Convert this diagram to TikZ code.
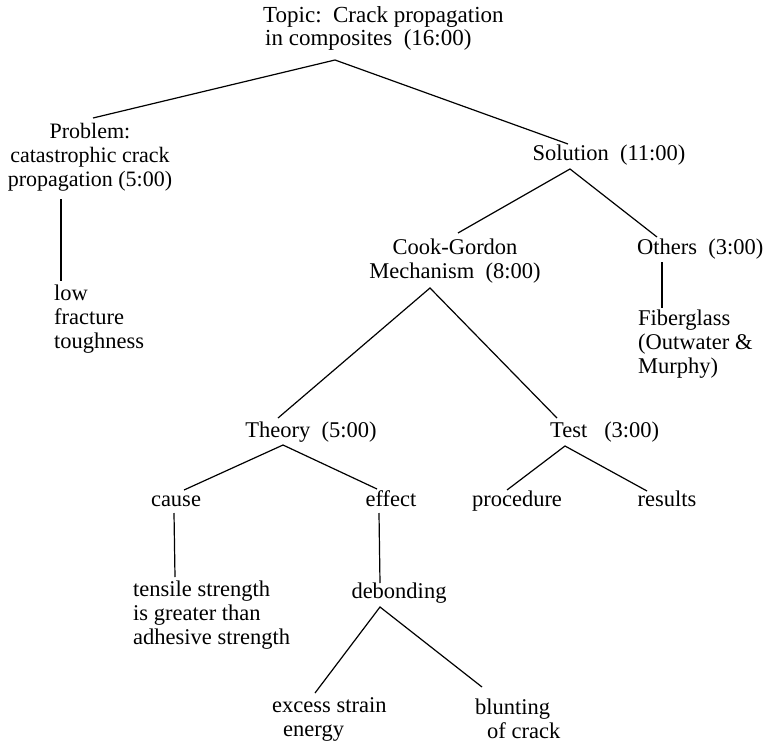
\documentclass[tikz,border=0pt]{standalone}
\usepackage{fontspec}
\setmainfont{Liberation Serif}
\begin{document}
\begin{tikzpicture}[x=1pt,y=-1pt,
  lbl/.style={inner sep=0pt, font=\fontsize{22.5}{24}\selectfont, align=center},
  lbll/.style={inner sep=0pt, font=\fontsize{22.5}{24}\selectfont, align=left, anchor=west},
  one/.style={text height=15.5pt, text depth=5pt},
  conn/.style={line width=1.2pt, black}]
\useasboundingbox (0,0) rectangle (769,744);
% nodes
\node[lbll, font=\fontsize{23}{23}\selectfont] (topic) at (263,28) {Topic:\ \ Crack propagation\\\hspace*{2pt}in composites\ \ (16:00)};
\node[lbl, font=\fontsize{22}{24}\selectfont] (problem) at (90,157) {Problem:\\catastrophic crack\\propagation (5:00)};
\node[lbll] (low) at (54,319) {low\\fracture\\toughness};
\node[lbl, one] (solution) at (609,155) {Solution\ \ (11:00)};
\node[lbl] (cook) at (455,261) {Cook-Gordon\\Mechanism\ \ (8:00)};
\node[lbll, one] (others) at (637,249) {Others\ \ (3:00)};
\node[lbll] (fiber) at (638,344) {Fiberglass\\(Outwater \&\\Murphy)};
\node[lbl, one] (theory) at (311,432) {Theory\ \ (5:00)};
\node[lbll, one] (test) at (550,432) {Test\ \ \ (3:00)};
\node[lbl, one] (cause) at (176,501) {cause};
\node[lbl, one] (effect) at (391,501) {effect};
\node[lbl, one] (procedure) at (517,501) {procedure};
\node[lbl, one] (results) at (667,501) {results};
\node[lbll] (tensile) at (133,615) {tensile strength\\is greater than\\adhesive strength};
\node[lbl, one] (debonding) at (399,593) {debonding};
\node[lbll] (excess) at (272,719) {excess strain\\\hspace*{11pt}energy};
\node[lbll] (blunting) at (475,719) {blunting\\\hspace*{12pt}of crack};
% connector end points
\coordinate (topA) at (335,60);
\coordinate (probT) at (93,118);
\coordinate (solT) at (568,144);
\coordinate (probB) at (61,199);
\coordinate (lowT) at (61,281);
\coordinate (solA) at (570,169);
\coordinate (cookT) at (458,233);
\coordinate (othT) at (657,237);
\coordinate (othB) at (662,262);
\coordinate (fibT) at (662,308);
\coordinate (cookA) at (430,288);
\coordinate (theT) at (278,418);
\coordinate (testT) at (557,418);
\coordinate (theA) at (283,445);
\coordinate (causeT) at (184,490);
\coordinate (effT) at (377,489);
\coordinate (testA) at (565,446);
\coordinate (procT) at (507,490);
\coordinate (resT) at (647,491);
\coordinate (causeB) at (174,513);
\coordinate (tensT) at (175,577);
\coordinate (effB) at (379,513);
\coordinate (debT) at (380,583);
\coordinate (debA) at (380,607);
\coordinate (excT) at (315,693);
\coordinate (bluT) at (482,687);
% connectors
\draw[conn] (probT) -- (topA) -- (solT);
\draw[conn] (probB) -- (lowT);
\draw[conn] (cookT) -- (solA) -- (othT);
\draw[conn] (othB) -- (fibT);
\draw[conn] (theT) -- (cookA) -- (testT);
\draw[conn] (causeT) -- (theA) -- (effT);
\draw[conn] (procT) -- (testA) -- (resT);
\draw[conn] (causeB) -- (tensT);
\draw[conn] (effB) -- (debT);
\draw[conn] (excT) -- (debA) -- (bluT);
\end{tikzpicture}
\end{document}
